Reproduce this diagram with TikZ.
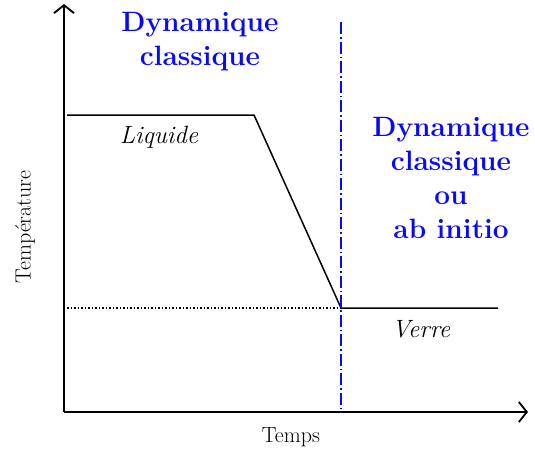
\documentclass[tikz,border=0pt]{standalone}
\usepackage{fontspec}
\usepackage{tikz}
\usetikzlibrary{arrows.meta,positioning}
\definecolor{dblue}{RGB}{10,10,240}

\begin{document}
\begin{tikzpicture}[x=1pt,y=-1pt,
  axe/.style={line width=1.8pt,-{Straight Barb[length=8pt,width=20pt,line width=1.8pt]}},
  courbe/.style={line width=1.5pt},
  titre/.style={text=dblue,font=\bfseries\fontsize{28}{34}\selectfont,align=center},
  etat/.style={font=\itshape\fontsize{25}{27}\selectfont},
  legende/.style={font=\fontsize{22}{25}\selectfont}]
 \useasboundingbox (0,0) rectangle (535,450);
 % axes
 \coordinate (O) at (64,412);
 \coordinate (ytop) at (64,4);
 \coordinate (xend) at (528,412);
 \draw[axe] (O) -- (ytop);
 \draw[axe] (O) -- (xend);
 % courbe de trempe
 \coordinate (l0) at (67,115);
 \coordinate (l1) at (254,115);
 \coordinate (g0) at (341,308);
 \coordinate (g1) at (498,308);
 \draw[courbe] (l0) -- (l1) -- (g0) -- (g1);
 \draw[line width=1.5pt,dotted] (67,308) -- (g0);
 % separation
 \draw[dblue,line width=1.2pt,dash pattern=on 12pt off 3pt on 1.5pt off 3pt] (341,22) -- (341,412);
 % textes
 \node[titre] (dyn) at (200,42) {Dynamique\\classique};
 \node[titre] (abi) at (451,178) {Dynamique\\classique\\ou\\ab initio};
 \node[etat] (liq) at (159,137) {Liquide};
 \node[etat] (ver) at (421,329) {Verre};
 \node[legende,rotate=90] (temp) at (25,227) {Température};
 \node[legende] (tps) at (291,437) {Temps};
\end{tikzpicture}
\end{document}
